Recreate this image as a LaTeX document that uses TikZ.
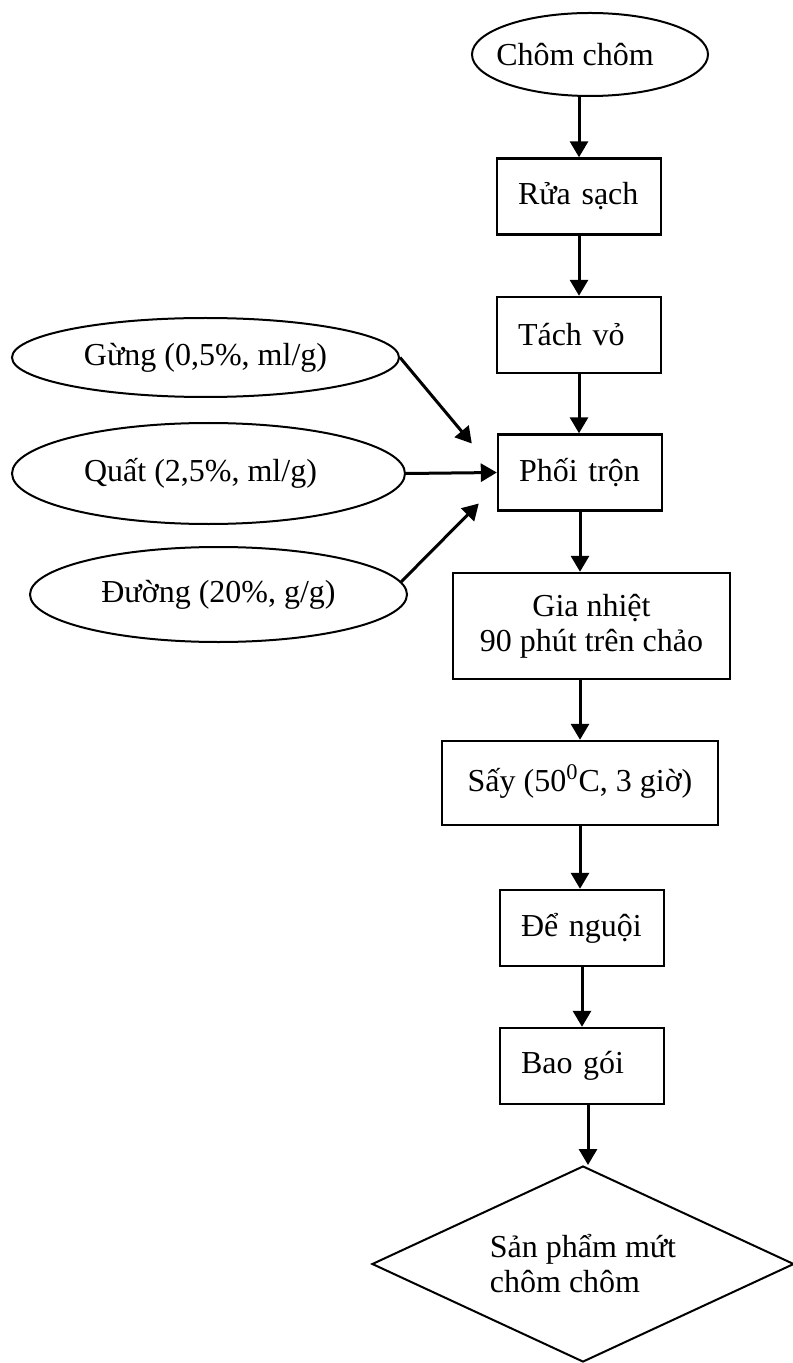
\documentclass[tikz,border=0pt]{standalone}
\usepackage{fontspec}
\setmainfont{Liberation Serif}
\usetikzlibrary{arrows.meta, positioning, shapes.geometric}

\tikzset{
  flowarrow/.style={line width=1.5pt, -{Triangle[length=8pt, width=9pt]}},
  stepbox/.style={draw, line width=1.2pt, rectangle, inner ysep=0pt,
    minimum height=38pt},
  smallbox/.style={stepbox, text width=61pt, inner xsep=10.5pt, align=left},
  inputoval/.style={draw, line width=1pt, ellipse, inner sep=0pt},
  endshape/.style={draw, line width=1pt, diamond, aspect=2.15, inner sep=0pt,
    minimum width=211pt, minimum height=98pt, align=left},
}

\begin{document}
\begin{tikzpicture}[x=0.5pt, y=-0.5pt, font=\fontsize{16}{17.5}\selectfont]
  \useasboundingbox (0,0) rectangle (792,1363);

  % Main line
  \node[inputoval, minimum width=118pt, minimum height=41.5pt,
    label={[xshift=-7.5pt]center:Chôm chôm}] (start) at (590,54.5) {};
  \foreach \nm/\cx/\cy/\txt in {
      rua/579/196.5/{Rửa sạch},
      tach/579/335/{Tách vỏ},
      tron/580/472.5/{Phối trộn},
      nguoi/582/928/{Để nguội},
      baogoi/582/1066/{Bao gói}} {
    \node[smallbox] (\nm) at (\cx,\cy) {\txt};
  }
  \node[stepbox, minimum width=138.5pt, minimum height=53pt, align=center]
    (gianhiet) at (591.5,626) {Gia nhiệt\\90 phút trên chảo};
  \node[stepbox, minimum width=138pt, minimum height=42pt] (say)
    at (580,783) {\raisebox{5pt}{Sấy (50\textsuperscript{0}C, 3 giờ)}};
  \node[endshape] (sanpham) at (583,1264) {Sản phẩm mứt\\chôm chôm};

  % Ingredients on the left
  \node[inputoval, minimum width=193.5pt, minimum height=39.5pt] (gung)
    at (205.5,357.5) {Gừng (0,5\%, ml/g)};
  \node[inputoval, minimum width=196.5pt, minimum height=50.5pt,
    label={[xshift=-4pt]center:Quất (2,5\%, ml/g)}] (quat) at (208.5,473.5) {};
  \node[inputoval, minimum width=188.5pt, minimum height=47.5pt] (duong)
    at (218.5,594.5) {Đường (20\%, g/g)};
  \coordinate (gungend)  at ([shift={(-25,-29)}]tron.west);
  \coordinate (duongend) at ([shift={(-18,31)}]tron.west);

  % Arrows
  \draw[flowarrow] (start.south -| rua.north) -- (rua.north);
  \foreach \a/\b in {rua/tach, tach/tron, tron/gianhiet, say/nguoi,
      nguoi/baogoi} {
    \draw[flowarrow] (\a.south) -- (\a.south |- \b.north);
  }
  \draw[flowarrow] (say.north |- gianhiet.south) -- (say.north);
  \draw[flowarrow] ([xshift=3pt]baogoi.south) -- ([xshift=3pt]baogoi.south |- sanpham.north);
  \draw[flowarrow] (gung.east) -- (gungend);
  \draw[flowarrow] (quat.east) -- (tron.west);
  \draw[flowarrow] (duong.4) -- (duongend);
\end{tikzpicture}
\end{document}
